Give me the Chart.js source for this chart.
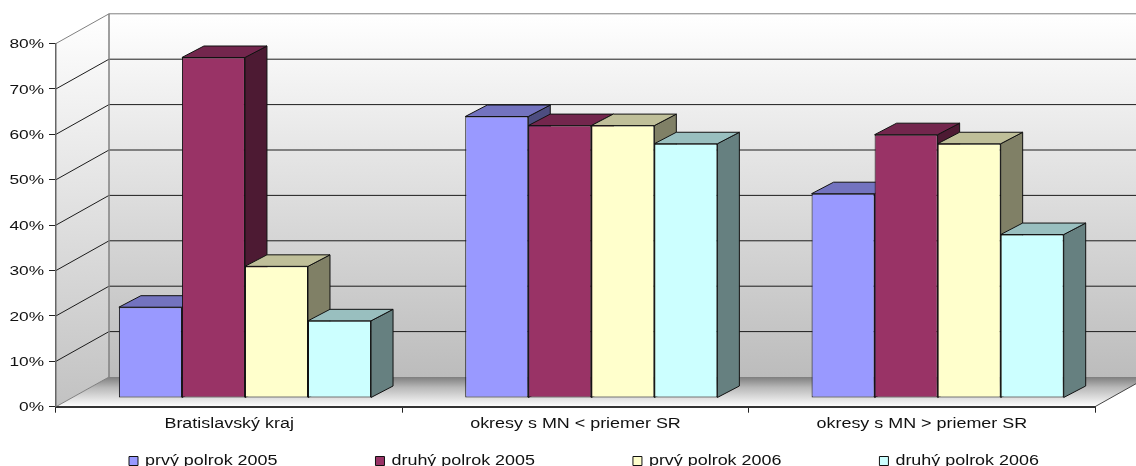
<!DOCTYPE html>
<html><head><meta charset="utf-8">
<style>html,body{margin:0;padding:0;background:#fff;overflow:hidden}canvas{display:block}</style>
<script src="https://cdn.jsdelivr.net/npm/chart.js@4/dist/chart.umd.js"></script>
</head><body><canvas id="c" width="1136" height="466"></canvas>
<script>
const categories = ['Bratislavský kraj','okresy s MN < priemer SR','okresy s MN > priemer SR'];
const seriesNames = ['prvý polrok 2005','druhý polrok 2005','prvý polrok 2006','druhý polrok 2006'];
const prvy2005 = [20,62,45];
const druhy2005 = [75,60,58];
const prvy2006 = [29,60,56];
const druhy2006 = [17,56,36];
const seriesValues = [prvy2005,druhy2005,prvy2006,druhy2006];
const frontColors = ['#9999FF','#993366','#FFFFCC','#CCFFFF'];
const topColors = ['#7373BF','#73264D','#BFBF99','#99BFBF'];
const sideColors = ['#4D4D80','#4D1A33','#808066','#668080'];

const DX=53, DY=29.7;      // wall depth
const OX=15.8, OY=8.7;     // bar row offset from front of floor
const BX=22, BY=11.5;      // bar depth
const STRETCH=1.28;

function poly(ctx,pts,fill,stroke,lw){
  ctx.beginPath();pts.forEach((p,i)=>i?ctx.lineTo(p[0],p[1]):ctx.moveTo(p[0],p[1]));ctx.closePath();
  if(fill){ctx.fillStyle=fill;ctx.fill();}
  if(stroke){ctx.strokeStyle=stroke;ctx.lineWidth=lw||1;ctx.stroke();}
}
function line(ctx,x1,y1,x2,y2,c,w){ctx.beginPath();ctx.moveTo(x1,y1);ctx.lineTo(x2,y2);ctx.strokeStyle=c;ctx.lineWidth=w||1;ctx.stroke();}

const plugin3d={
  id:'bars3d',
  afterInit(chart){
    const ctx=chart.ctx, ft=ctx.fillText.bind(ctx), mt=ctx.measureText.bind(ctx);
    ctx.fillText=function(t,x,y,m){ctx.save();ctx.translate(x,y);ctx.scale(STRETCH,1);ft(t,0,0);ctx.restore();};
    ctx.measureText=function(t){const r=mt(t);return {width:r.width*STRETCH,actualBoundingBoxAscent:r.actualBoundingBoxAscent,actualBoundingBoxDescent:r.actualBoundingBoxDescent};};
    const lg=chart.legend, f=lg.fit;
    lg.fit=function(){this.maxWidth=3000;f.call(this);this.width=1136;this.height=19.3;};
  },
  afterLayout(chart){
    const lg=chart.legend;
    lg.left=31;lg.right=1600;lg.top=356;lg.bottom=480;
  },
  beforeDraw(chart){
    const ctx=chart.ctx,{x,y}=chart.scales;
    const L=x.left,R=x.right,B=y.bottom,T=y.top;
    ctx.save();
    // side wall
    let g=ctx.createLinearGradient(0,T-DY,0,B);
    g.addColorStop(0,'#ffffff');g.addColorStop(1,'#c2c2c2');
    poly(ctx,[[L,B],[L,T],[L+DX,T-DY],[L+DX,B-DY]],g);
    // back wall
    g=ctx.createLinearGradient(0,T-DY,0,B-DY);
    g.addColorStop(0,'#ffffff');g.addColorStop(1,'#bcbcbc');
    poly(ctx,[[L+DX,T-DY],[R+DX,T-DY],[R+DX,B-DY],[L+DX,B-DY]],g);
    // floor
    g=ctx.createLinearGradient(0,B-DY,0,B);
    g.addColorStop(0,'#7e7e7e');g.addColorStop(.35,'#b8b8b8');g.addColorStop(1,'#ffffff');
    poly(ctx,[[L,B],[L+DX,B-DY],[R+DX,B-DY],[R,B]],g);
    // gridlines on walls
    y.ticks.forEach(t=>{
      const py=y.getPixelForValue(t.value);
      const edge=(t.value===y.max||t.value===y.min);
      if(t.value!==y.min) line(ctx,L+DX,py-DY,R+DX,py-DY,edge?'#808080':'#1c1c1c',1);
      line(ctx,L,py,L+DX,py-DY,edge?'#808080':'#1c1c1c',1);
    });
    line(ctx,L+DX,T-DY,L+DX,B-DY,'#808080',1.5);
    line(ctx,R,B,R+DX,B-DY,'#444',1);
    ctx.restore();
  },
  beforeDatasetsDraw(chart){
    const ctx=chart.ctx;
    ctx.save();
    ctx.translate(OX,-OY);
    chart.data.labels.forEach((_,i)=>{
      chart.data.datasets.forEach((d,k)=>{
        const el=chart.getDatasetMeta(k).data[i];
        const l=el.x-el.width/2,r=el.x+el.width/2,t=el.y,b=el.base;
        poly(ctx,[[r,t],[r+BX,t-BY],[r+BX,b-BY],[r,b]],sideColors[k],'#111',1);
        poly(ctx,[[l,t],[l+BX,t-BY],[r+BX,t-BY],[r,t]],topColors[k],'#111',1);
      });
    });
  },
  afterDatasetsDraw(chart){chart.ctx.restore();}
};

new Chart(document.getElementById('c'),{
  type:'bar',
  data:{labels:categories,datasets:seriesValues.map((v,i)=>({
    label:seriesNames[i],data:v,backgroundColor:frontColors[i],borderColor:'#111',borderWidth:1,borderSkipped:false,clip:false,
    categoryPercentage:0.728,barPercentage:1
  }))},
  options:{
    responsive:false,animation:false,devicePixelRatio:1,
    layout:{padding:{left:0,right:41,top:43.5,bottom:0}},
    plugins:{
      tooltip:{enabled:false},
      legend:{position:'bottom',align:'start',labels:{boxWidth:9,boxHeight:9,padding:98,color:'#111',font:{family:'"Liberation Sans",Arial,sans-serif',size:14}}}
    },
    scales:{
      x:{
        afterFit(s){s.height=40;},
        grid:{drawOnChartArea:false,drawTicks:true,tickLength:6,tickColor:'#222'},
        border:{color:'#333',width:2},
        ticks:{color:'#111',padding:3,maxRotation:0,font:{family:'"Liberation Sans",Arial,sans-serif',size:14}}
      },
      y:{
        min:0,max:80,
        afterFit(s){s.width=56;},
        grid:{drawOnChartArea:false,drawTicks:true,tickLength:7,tickColor:'#222'},
        border:{color:'#666',width:1.5},
        ticks:{stepSize:10,color:'#111',padding:5,labelOffset:1,callback:v=>v+'%',font:{family:'"Liberation Sans",Arial,sans-serif',size:13.5}}
      }
    }
  },
  plugins:[plugin3d]
});
</script></body></html>
